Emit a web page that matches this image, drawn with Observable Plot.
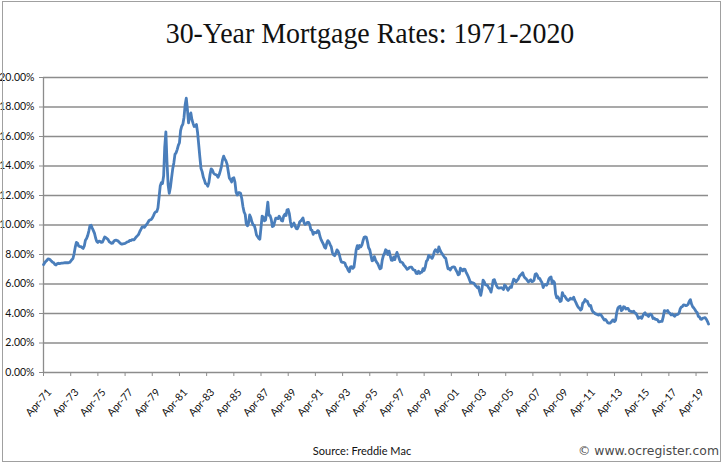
<!DOCTYPE html>
<html>
<head>
<meta charset="utf-8">
<script src="https://cdn.jsdelivr.net/npm/d3@7"></script>
<script src="https://cdn.jsdelivr.net/npm/@observablehq/plot@0.6"></script>
<style>
  body { margin: 0; background: #fff; }
  #wrap { position: relative; width: 725px; height: 466px; overflow: hidden; background: #fff; }
  #frame { position: absolute; left: 2px; top: 1px; width: 719px; height: 461px; border: 1px solid #a0a0a0; box-sizing: border-box; pointer-events: none; }
  #title { position: relative; height: 62px; }
  #title span { position: absolute; left: 370px; top: 18px; transform: translateX(-50%) scaleX(0.93); white-space: nowrap;
    font-family: "Liberation Serif", "Times New Roman", serif; font-size: 30px; line-height: 1; color: #111; }
  #chart svg { display: block; }
  #footer { position: relative; height: 42px; }
  #source { position: absolute; left: 362px; top: 20px; transform: translateX(-50%); white-space: nowrap;
    font-family: Lato, "Open Sans", sans-serif; font-size: 11px; color: #111; }
  #credit { position: absolute; right: 6px; top: 19px; white-space: nowrap;
    font-family: "DejaVu Sans", Verdana, sans-serif; font-size: 12.4px; color: #4a4a4a; }
</style>
</head>
<body>
<div id="wrap">
  <div id="title"><span>30-Year Mortgage Rates: 1971-2020</span></div>
  <div id="chart"></div>
  <div id="footer">
    <div id="source">Source: Freddie Mac</div>
    <div id="credit">© www.ocregister.com</div>
  </div>
  <div id="frame"></div>
</div>
<script>
// ---- data ----
const chartTitle = "30-Year Mortgage Rates: 1971-2020";
const tickLabels = ["Apr-71","Apr-73","Apr-75","Apr-77","Apr-79","Apr-81","Apr-83","Apr-85","Apr-87","Apr-89",
  "Apr-91","Apr-93","Apr-95","Apr-97","Apr-99","Apr-01","Apr-03","Apr-05","Apr-07","Apr-09","Apr-11","Apr-13",
  "Apr-15","Apr-17","Apr-19"];
const yTicks = [0, 2, 4, 6, 8, 10, 12, 14, 16, 18, 20];
const firstMonth = "1971-04";   // first monthly value
const lastMonth = "2020-03";    // last monthly value
// monthly 30-year fixed rate, %, Apr 1971 .. Mar 2020
const monthlyRate = [
  7.31,7.43,7.53,7.60,7.70,7.69,7.63,7.55,7.48,
  7.44,7.32,7.29,7.37,7.41,7.38,7.40,7.41,7.42,7.43,7.44,7.44,
  7.44,7.44,7.46,7.54,7.65,7.73,8.05,8.50,8.82,8.77,8.58,8.54,
  8.54,8.46,8.41,8.58,8.97,9.09,9.28,9.59,9.96,9.98,9.79,9.62,
  9.43,9.10,8.89,8.82,8.91,8.89,8.82,8.84,9.01,9.19,9.14,9.08,
  9.01,8.86,8.82,8.76,8.77,8.89,8.96,8.97,8.95,8.90,8.82,8.74,
  8.70,8.72,8.73,8.75,8.80,8.86,8.87,8.95,8.94,9.00,9.01,9.00,
  9.11,9.21,9.28,9.37,9.56,9.71,9.86,9.88,9.84,9.94,10.04,10.15,
  10.29,10.35,10.36,10.46,10.62,10.80,10.89,10.91,11.16,11.88,12.64,12.86,
  12.81,13.34,15.28,16.32,14.26,12.71,12.15,12.56,13.20,13.79,14.21,14.79,
  14.90,15.13,15.40,15.58,16.40,16.70,16.83,17.29,18.16,18.60,17.83,16.92,
  17.40,17.60,17.16,16.89,16.68,16.70,16.82,16.27,15.43,14.61,13.83,13.62,
  13.25,13.04,12.80,12.78,12.63,12.87,13.42,13.81,13.73,13.54,13.44,13.42,
  13.37,13.23,13.39,13.65,13.94,14.42,14.67,14.47,14.35,14.13,13.64,13.18,
  13.08,12.92,13.17,13.20,12.91,12.22,12.03,12.19,12.19,12.14,11.78,11.26,
  10.88,10.71,10.08,9.94,10.14,10.68,10.51,10.20,10.01,9.98,9.70,9.32,
  9.20,9.08,9.04,9.83,10.60,10.54,10.28,10.33,10.89,11.55,10.65,10.64,
  10.38,9.89,9.93,10.20,10.46,10.46,10.43,10.60,10.48,10.30,10.27,10.61,
  10.73,10.65,11.03,11.05,10.77,10.20,9.88,9.99,10.13,9.95,9.77,9.74,
  9.90,10.20,10.27,10.37,10.48,10.16,10.04,10.10,10.18,10.18,10.01,9.67,
  9.64,9.37,9.50,9.49,9.47,9.62,9.58,9.24,9.01,8.86,8.71,8.50,
  8.43,8.76,8.94,8.85,8.67,8.51,8.13,7.98,7.92,8.09,8.31,8.22,
  8.02,7.68,7.50,7.47,7.47,7.42,7.21,7.11,6.92,6.83,7.16,7.17,
  7.06,7.15,7.68,8.32,8.60,8.40,8.61,8.51,8.64,8.93,9.17,9.20,
  9.15,8.83,8.46,8.32,7.96,7.57,7.61,7.86,7.64,7.48,7.38,7.20,
  7.03,7.08,7.62,7.93,8.07,8.32,8.25,8.00,8.23,7.92,7.62,7.60,
  7.82,7.65,7.90,8.14,7.94,7.69,7.50,7.48,7.43,7.29,7.21,7.10,
  6.99,7.04,7.13,7.14,7.14,7.00,6.95,6.92,6.72,6.71,6.87,6.72,
  6.79,6.81,7.04,6.92,7.15,7.55,7.63,7.94,7.82,7.85,7.74,7.91,
  8.21,8.33,8.24,8.15,8.52,8.29,8.15,8.03,7.91,7.80,7.75,7.38,
  7.03,7.05,6.95,7.08,7.15,7.16,7.13,6.95,6.82,6.62,6.66,7.07,
  7.00,6.89,7.01,6.99,6.81,6.65,6.49,6.29,6.09,6.11,6.07,6.05,
  5.92,5.84,5.75,5.81,5.48,5.23,5.63,6.26,6.15,5.95,5.93,5.88,
  5.74,5.64,5.45,5.83,6.27,6.29,6.06,5.87,5.75,5.72,5.73,5.75,
  5.71,5.63,5.93,5.86,5.72,5.58,5.70,5.82,5.77,6.07,6.33,6.27,
  6.15,6.25,6.32,6.51,6.60,6.68,6.76,6.52,6.40,6.36,6.24,6.14,
  6.22,6.29,6.16,6.18,6.26,6.66,6.70,6.57,6.38,6.38,6.21,6.10,
  5.76,5.92,5.97,5.92,6.04,6.32,6.43,6.48,6.04,6.20,6.09,5.33,
  5.06,5.13,5.00,4.81,4.86,5.42,5.22,5.19,5.06,4.95,4.88,4.93,
  5.03,4.99,4.97,5.10,4.89,4.74,4.56,4.43,4.35,4.23,4.30,4.71,
  4.76,4.95,4.84,4.84,4.64,4.51,4.55,4.27,4.11,4.07,3.99,3.96,
  3.92,3.89,3.95,3.91,3.80,3.68,3.55,3.60,3.50,3.38,3.35,3.35,
  3.41,3.53,3.57,3.45,3.54,4.07,4.37,4.46,4.49,4.19,4.26,4.46,
  4.43,4.30,4.34,4.34,4.19,4.16,4.13,4.12,4.16,4.04,4.00,3.86,
  3.67,3.71,3.77,3.67,3.84,3.98,4.05,3.91,3.89,3.80,3.94,3.96,
  3.87,3.66,3.69,3.61,3.60,3.57,3.44,3.44,3.46,3.47,3.77,4.20,
  4.15,4.17,4.20,4.05,4.01,3.90,3.97,3.88,3.81,3.90,3.92,3.95,
  4.03,4.33,4.44,4.47,4.59,4.57,4.53,4.55,4.63,4.83,4.94,4.64,
  4.46,4.37,4.27,4.14,4.07,3.80,3.77,3.62,3.61,3.69,3.70,3.72,
  3.62,3.47,3.29
];

// ---- build table ----
const parseMonth = d3.utcParse("%Y-%m");
const start = parseMonth(firstMonth);
const end = parseMonth(lastMonth);
const rows = monthlyRate.map((rate, i) => ({ date: d3.utcMonth.offset(start, i), rate }));
const parseTick = d3.utcParse("%b-%y");
const tickDates = tickLabels.map(parseTick);
const labelOf = new Map(tickDates.map((d, i) => [+d, tickLabels[i]]));

const grid = "#8c8c8c";
const chart = Plot.plot({
  width: 725,
  height: 362,
  marginTop: 15,
  marginBottom: 52,
  marginLeft: 43,
  marginRight: 17,
  style: { fontFamily: "Lato, 'Open Sans', sans-serif", fontSize: "10px", color: "#111", background: "transparent" },
  x: { type: "utc", domain: [start, end] },
  y: { domain: [0, 20] },
  marks: [
    Plot.ruleY(yTicks, { stroke: grid, strokeWidth: 1.3 }),
    Plot.ruleX([start], { stroke: grid, strokeWidth: 1.3 }),
    Plot.axisY({ ticks: yTicks, tickFormat: d => d.toFixed(2) + "%", tickSize: 4, tickPadding: 5, stroke: grid, label: null, fontSize: 10.5 }),
    // tick marks only
    Plot.axisX({ ticks: tickDates, tickFormat: () => "", tickSize: 4, stroke: grid, label: null }),
    // rotated tick labels only
    Plot.axisX({ ticks: tickDates, tickFormat: d => labelOf.get(+d), tickRotate: -48, tickSize: 0, tickPadding: 18, dx: 6, label: null, fontSize: 10.5 }),
    Plot.line(rows, { x: "date", y: "rate", stroke: "#4a7ebb", strokeWidth: 2.8, strokeLinejoin: "round" })
  ]
});
document.getElementById("chart").appendChild(chart);
</script>
</body>
</html>
